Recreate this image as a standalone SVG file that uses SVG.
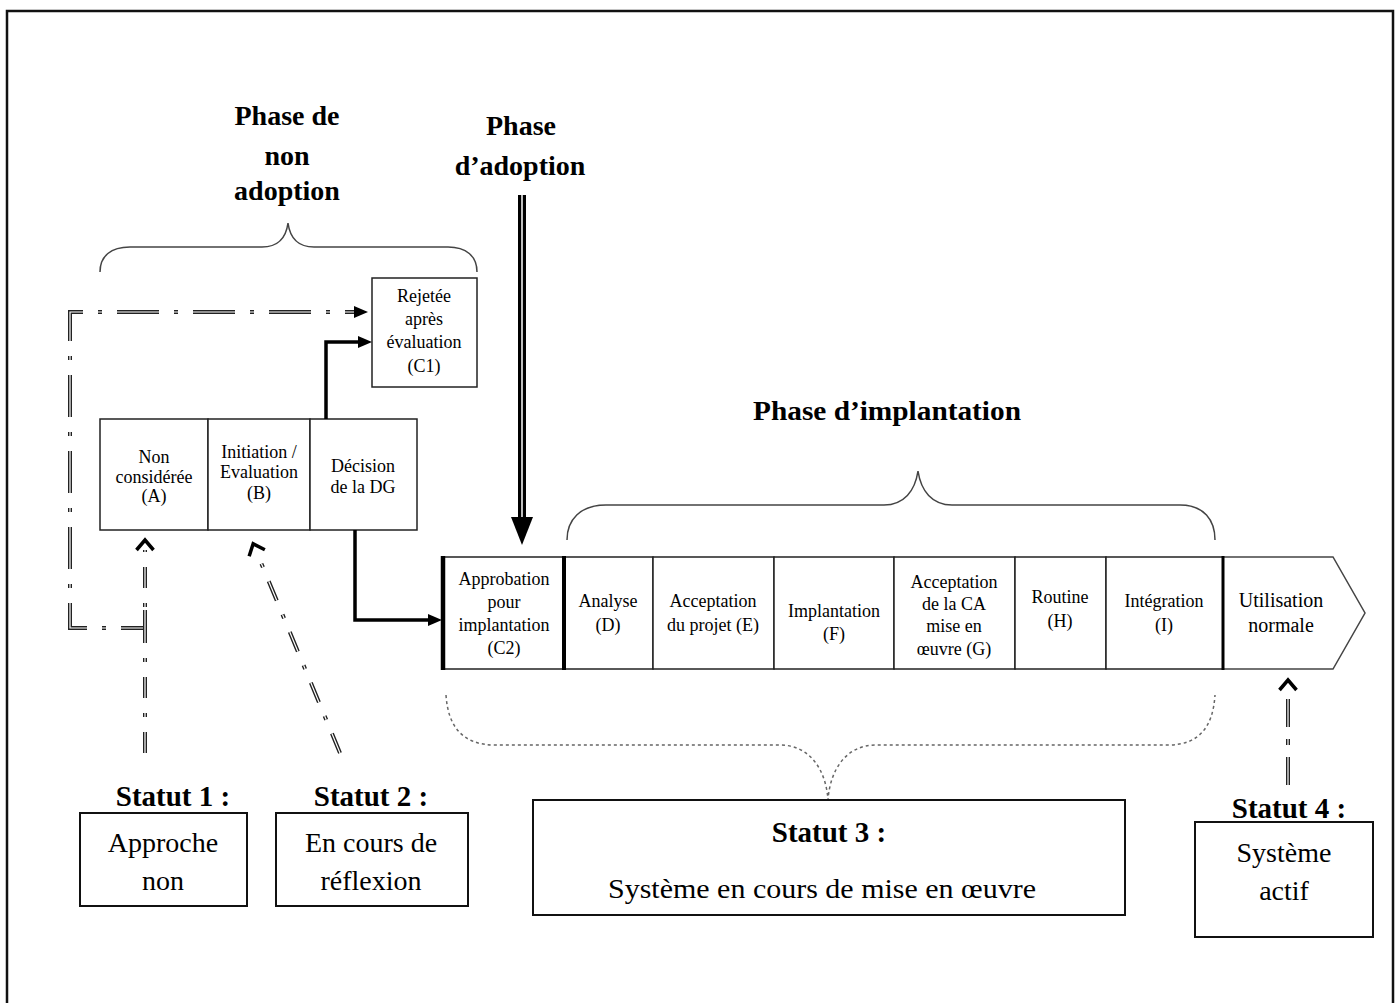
<svg xmlns="http://www.w3.org/2000/svg" xmlns:xlink="http://www.w3.org/1999/xlink" width="1397" height="1003" viewBox="0 0 1397 1003">
<style>
.box{fill:#fff;stroke:#222;stroke-width:1.5}
.sbox{fill:#fff;stroke:#111;stroke-width:2}
.t{font-family:"Liberation Serif","Times New Roman",serif;font-size:18px;text-anchor:middle;fill:#000}
.tu{font-size:20px}
.th{font-weight:bold;font-size:28px}
.ts{font-weight:bold;font-size:29px}
.tl{font-size:28px}
.brace{fill:none;stroke:#444;stroke-width:1.5}
.dbrace{fill:none;stroke:#666;stroke-width:1.5;stroke-dasharray:3 3}
.thick{fill:none;stroke:#000;stroke-width:3.5}
.dk{fill:none;stroke:#222;stroke-width:4}
.wh{fill:none;stroke:#fff;stroke-width:1.2}
.bar{stroke:#000;fill:none}
</style>
<defs>
<marker id="tri" viewBox="0 -7 15 14" refX="0" refY="0" markerWidth="15" markerHeight="14" markerUnits="userSpaceOnUse" orient="auto">
<path d="M0,-6 L14,0 L0,6 z" fill="#000" stroke="none"/>
</marker>
<marker id="chev" viewBox="-3 -11 16 22" refX="0" refY="0" markerWidth="16" markerHeight="22" markerUnits="userSpaceOnUse" orient="auto">
<path d="M0,-8.5 L10,0 L0,8.5" fill="none" stroke="#000" stroke-width="3.5" stroke-dasharray="none"/>
</marker>
<path id="pC1" d="M145,610 V628 H70 V312 H354" stroke-dasharray="42 15 4 15"/>
<path id="pS1" d="M145,753 V550" stroke-dasharray="21 15 4 15"/>
<path id="pS2" d="M340,753 L257,553" stroke-dasharray="21 15 4 15"/>
<path id="pS4" d="M1288,785 V690" stroke-dasharray="28 12 6 12"/>
</defs>

<rect x="7" y="11" width="1386" height="1010" fill="#fff" stroke="#111" stroke-width="2.5"/>

<g id="labels">
<text class="t th" x="287" y="125">Phase de</text>
<text class="t th" x="287" y="165">non</text>
<text class="t th" x="287" y="200">adoption</text>
<text class="t th" x="521" y="135">Phase</text>
<text class="t th" x="520" y="175">d’adoption</text>
<text class="t th" x="887" y="420" textLength="268" lengthAdjust="spacingAndGlyphs">Phase d’implantation</text>
</g>

<g id="braces">
<path class="brace" d="M100,272 C100,256 111,247 130,247 L262,247 C278,247 286,238 288,223 C290,238 298,247 314,247 L448,247 C466,247 477,256 477,272"/>
<path class="brace" d="M567,540 C567,520 580,505 606,505 L884,505 C904,505 915,491 918,471 C921,491 932,505 952,505 L1180,505 C1204,505 1215,520 1215,540"/>
<path class="dbrace" d="M446,695 C448,726 462,745 495,745 L780,745 C810,745 826,770 828,800 C830,770 846,745 876,745 L1168,745 C1200,745 1213,726 1215,695"/>
</g>

<g id="n_A">
<rect class="box" x="100" y="419" width="108" height="111"/>
<text class="t" x="154" y="463">Non</text>
<text class="t" x="154" y="483">considérée</text>
<text class="t" x="154" y="502">(A)</text>
</g>
<g id="n_B">
<rect class="box" x="208" y="419" width="102" height="111"/>
<text class="t" x="259" y="458">Initiation /</text>
<text class="t" x="259" y="478">Evaluation</text>
<text class="t" x="259" y="499">(B)</text>
</g>
<g id="n_DG">
<rect class="box" x="310" y="419" width="107" height="111"/>
<text class="t" x="363" y="472">Décision</text>
<text class="t" x="363" y="493">de la DG</text>
</g>
<g id="n_C1">
<rect class="box" x="372" y="278" width="105" height="109"/>
<text class="t" x="424" y="302">Rejetée</text>
<text class="t" x="424" y="325">après</text>
<text class="t" x="424" y="348">évaluation</text>
<text class="t" x="424" y="372">(C1)</text>
</g>

<g id="n_C2">
<rect class="box" x="443" y="557" width="121" height="112"/>
<text class="t" x="504" y="585">Approbation</text>
<text class="t" x="504" y="608">pour</text>
<text class="t" x="504" y="631">implantation</text>
<text class="t" x="504" y="654">(C2)</text>
</g>
<g id="n_D">
<rect class="box" x="564" y="557" width="89" height="112"/>
<text class="t" x="608" y="607">Analyse</text>
<text class="t" x="608" y="631">(D)</text>
</g>
<g id="n_E">
<rect class="box" x="653" y="557" width="121" height="112"/>
<text class="t" x="713" y="607">Acceptation</text>
<text class="t" x="713" y="631">du projet (E)</text>
</g>
<g id="n_F">
<rect class="box" x="774" y="557" width="120" height="112"/>
<text class="t" x="834" y="617">Implantation</text>
<text class="t" x="834" y="640">(F)</text>
</g>
<g id="n_G">
<rect class="box" x="894" y="557" width="121" height="112"/>
<text class="t" x="954" y="588">Acceptation</text>
<text class="t" x="954" y="610">de la CA</text>
<text class="t" x="954" y="632">mise en</text>
<text class="t" x="954" y="655">œuvre (G)</text>
</g>
<g id="n_H">
<rect class="box" x="1015" y="557" width="91" height="112"/>
<text class="t" x="1060" y="603">Routine</text>
<text class="t" x="1060" y="627">(H)</text>
</g>
<g id="n_I">
<rect class="box" x="1106" y="557" width="117" height="112"/>
<text class="t" x="1164" y="607">Intégration</text>
<text class="t" x="1164" y="631">(I)</text>
</g>
<g id="n_util">
<path d="M1223,557 H1333 L1365,613 L1333,669 H1223 Z" fill="#fff" stroke="#444" stroke-width="1.5"/>
<text class="t tu" x="1281" y="607">Utilisation</text>
<text class="t tu" x="1281" y="632">normale</text>
</g>
<g id="bar_edges">
<line class="bar" x1="443" y1="556" x2="443" y2="670" stroke-width="4.5"/>
<line class="bar" x1="564" y1="556" x2="564" y2="670" stroke-width="4"/>
<line class="bar" x1="1223" y1="556" x2="1223" y2="670" stroke-width="3"/>
</g>

<g id="s1">
<text class="t ts" x="173" y="806">Statut 1 :</text>
<rect class="sbox" x="80" y="813" width="167" height="93"/>
<text class="t tl" x="163" y="852">Approche</text>
<text class="t tl" x="163" y="890">non</text>
</g>
<g id="s2">
<text class="t ts" x="371" y="806">Statut 2 :</text>
<rect class="sbox" x="276" y="813" width="192" height="93"/>
<text class="t tl" x="371" y="852">En cours de</text>
<text class="t tl" x="371" y="890">réflexion</text>
</g>
<g id="s3">
<rect class="sbox" x="533" y="800" width="592" height="115"/>
<text class="t ts" x="829" y="842">Statut 3 :</text>
<text class="t tl" x="822" y="898" textLength="428" lengthAdjust="spacingAndGlyphs">Système en cours de mise en œuvre</text>
</g>
<g id="s4">
<text class="t ts" x="1289" y="818">Statut 4 :</text>
<rect class="sbox" x="1195" y="822" width="178" height="115"/>
<text class="t tl" x="1284" y="862">Système</text>
<text class="t tl" x="1284" y="900">actif</text>
</g>

<g id="connectors">
<path class="thick" d="M326,419 V342 H358" marker-end="url(#tri)"/>
<path class="thick" d="M355,530 V620 H428" marker-end="url(#tri)"/>
<line x1="522" y1="195" x2="522" y2="519" stroke="#000" stroke-width="8"/>
<line x1="522" y1="195" x2="522" y2="519" stroke="#fff" stroke-width="1.5"/>
<polygon points="511,517 533,517 522,545" fill="#000"/>
<use xlink:href="#pC1" class="dk" marker-end="url(#tri)"/>
<use xlink:href="#pC1" class="wh"/>
<use xlink:href="#pS1" class="dk" marker-end="url(#chev)"/>
<use xlink:href="#pS1" class="wh"/>
<use xlink:href="#pS2" class="dk" marker-end="url(#chev)"/>
<use xlink:href="#pS2" class="wh"/>
<use xlink:href="#pS4" class="dk" marker-end="url(#chev)"/>
<use xlink:href="#pS4" class="wh"/>
</g>
</svg>
